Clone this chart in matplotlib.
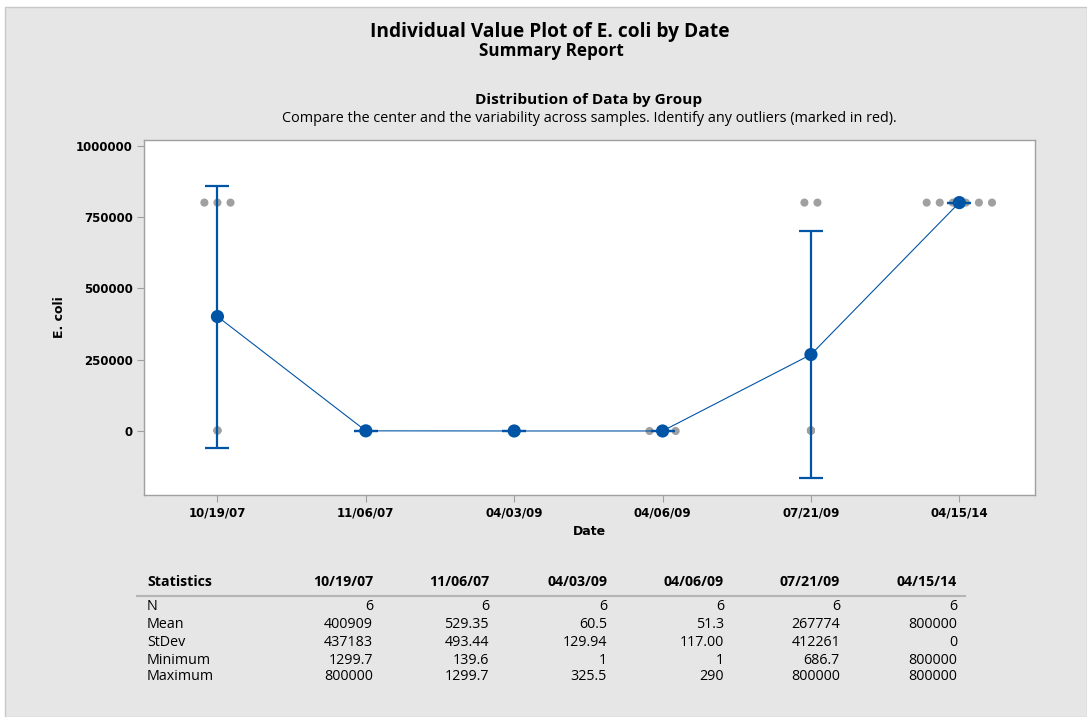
import numpy as np
import matplotlib
matplotlib.use("Agg")
import matplotlib.pyplot as plt
from matplotlib.patches import Rectangle

dates = ['10/19/07', '11/06/07', '04/03/09', '04/06/09', '07/21/09', '04/15/14']

# individual observations (estimated so that they agree with the summary table)
values = [
    [800000, 800000, 800000, 1299.7, 2000, 2154.3],
    [139.6, 200, 300, 400, 836.8, 1299.7],
    [1, 2, 5, 12.5, 17, 325.5],
    [1, 1, 1, 4.8, 10, 290],
    [800000, 800000, 686.7, 1500, 2000, 2457.3],
    [800000, 800000, 800000, 800000, 800000, 800000],
]

stat_n = [6, 6, 6, 6, 6, 6]
stat_mean = [400909, 529.35, 60.5, 51.3, 267774, 800000]
stat_sd = [437183, 493.44, 129.94, 117.00, 412261, 0]
stat_n_txt = ['6', '6', '6', '6', '6', '6']
stat_mean_txt = ['400909', '529.35', '60.5', '51.3', '267774', '800000']
stat_sd_txt = ['437183', '493.44', '129.94', '117.00', '412261', '0']
stat_min_txt = ['1299.7', '139.6', '1', '1', '686.7', '800000']
stat_max_txt = ['800000', '1299.7', '325.5', '290', '800000', '800000']

T95 = 2.5706  # t(0.975, df=5)

BLUE = '#0054a6'
GRAY = '#a0a0a0'
BG = '#e6e6e6'

fig = plt.figure(figsize=(10.87, 7.17), dpi=100, facecolor='white')
fig.patches.append(Rectangle((5 / 1087, 0), 1 - 5 / 1087, 1 - 7 / 717, transform=fig.transFigure,
                             facecolor=BG, edgecolor='#c8c8c8', lw=1, zorder=-10))

ax = fig.add_axes([144 / 1087, 1 - 495 / 717, (1035 - 144) / 1087, (495 - 140) / 717])
ax.set_facecolor('white')

x = np.arange(len(dates))
spacing = 0.088

# individual values, equal values stacked side by side
for i, vals in enumerate(values):
    uniq, counts = np.unique(vals, return_counts=True)
    for v, c in zip(uniq, counts):
        offs = (np.arange(c) - (c - 1) / 2) * spacing
        ax.scatter(i + offs, [v] * c, s=34, color=GRAY, edgecolors='none', zorder=2)

ax.plot(x, stat_mean, color=BLUE, lw=0.8, zorder=3)

ci = T95 * np.array(stat_sd) / np.sqrt(stat_n)
ax.errorbar(x, stat_mean, yerr=ci, fmt='none', ecolor=BLUE, elinewidth=1.6,
            capsize=8.5, capthick=1.6, zorder=4)
ax.scatter(x, stat_mean, s=90, color=BLUE, edgecolors='none', zorder=5)

ax.set_xlim(-0.495, 5.51)
ax.set_ylim(-224200, 1019300)
ax.set_xticks(x)
ax.set_xticklabels(dates)
ax.set_yticks([0, 250000, 500000, 750000, 1000000])
ax.set_yticklabels(['0', '250000', '500000', '750000', '1000000'])
for lab in ax.get_xticklabels() + ax.get_yticklabels():
    lab.set_fontweight('bold')
    lab.set_fontsize(8.5)
ax.tick_params(direction='out', length=5, color='#a0a0a0', pad=3)
for sp in ax.spines.values():
    sp.set_color('#a0a0a0')
    sp.set_linewidth(1)

ax.set_xlabel('Date', fontsize=9, fontweight='bold', labelpad=4)
ax.set_ylabel('E. coli', fontsize=9, fontweight='bold', labelpad=7)

tf = 'Open Sans'
fig.text(550 / 1087, 1 - 32 / 717, 'Individual Value Plot of E. coli by Date', ha='center', va='center',
         fontsize=13.8, fontweight='bold', family=tf)
fig.text(551 / 1087, 1 - 51 / 717, 'Summary Report', ha='center', va='center',
         fontsize=12.3, fontweight='bold', family=tf)
fig.text(589 / 1087, 1 - 100 / 717, 'Distribution of Data by Group', ha='center', va='center',
         fontsize=11.1, fontweight='bold', family=tf)
fig.text(589 / 1087, 1 - 118 / 717,
         'Compare the center and the variability across samples. Identify any outliers (marked in red).',
         ha='center', va='center', fontsize=10.4, family=tf)

# statistics table
col_right = [373, 489, 607, 724, 840, 957]
row_names = ['N', 'Mean', 'StDev', 'Minimum', 'Maximum']
rows = [stat_n_txt, stat_mean_txt, stat_sd_txt, stat_min_txt, stat_max_txt]
row_y = [607, 625, 642, 660, 677]

fig.text(147 / 1087, 1 - 582 / 717, 'Statistics', ha='left', va='center',
         fontsize=10.2, fontweight='bold', family=tf)
for cx, d in zip(col_right, dates):
    fig.text(cx / 1087, 1 - 582 / 717, d, ha='right', va='center',
             fontsize=10.2, fontweight='bold', family=tf)
fig.add_artist(plt.Line2D([137 / 1087, 965 / 1087], [1 - 596 / 717, 1 - 596 / 717],
                          transform=fig.transFigure, color='#b4b4b4', lw=1.5))
for name, vals, ry in zip(row_names, rows, row_y):
    fig.text(147 / 1087, 1 - ry / 717, name, ha='left', va='center', fontsize=10.3, family=tf)
    for cx, v in zip(col_right, vals):
        fig.text(cx / 1087, 1 - ry / 717, v, ha='right', va='center', fontsize=10.3, family=tf)

fig.savefig('out.png', dpi=100, facecolor=fig.get_facecolor())
